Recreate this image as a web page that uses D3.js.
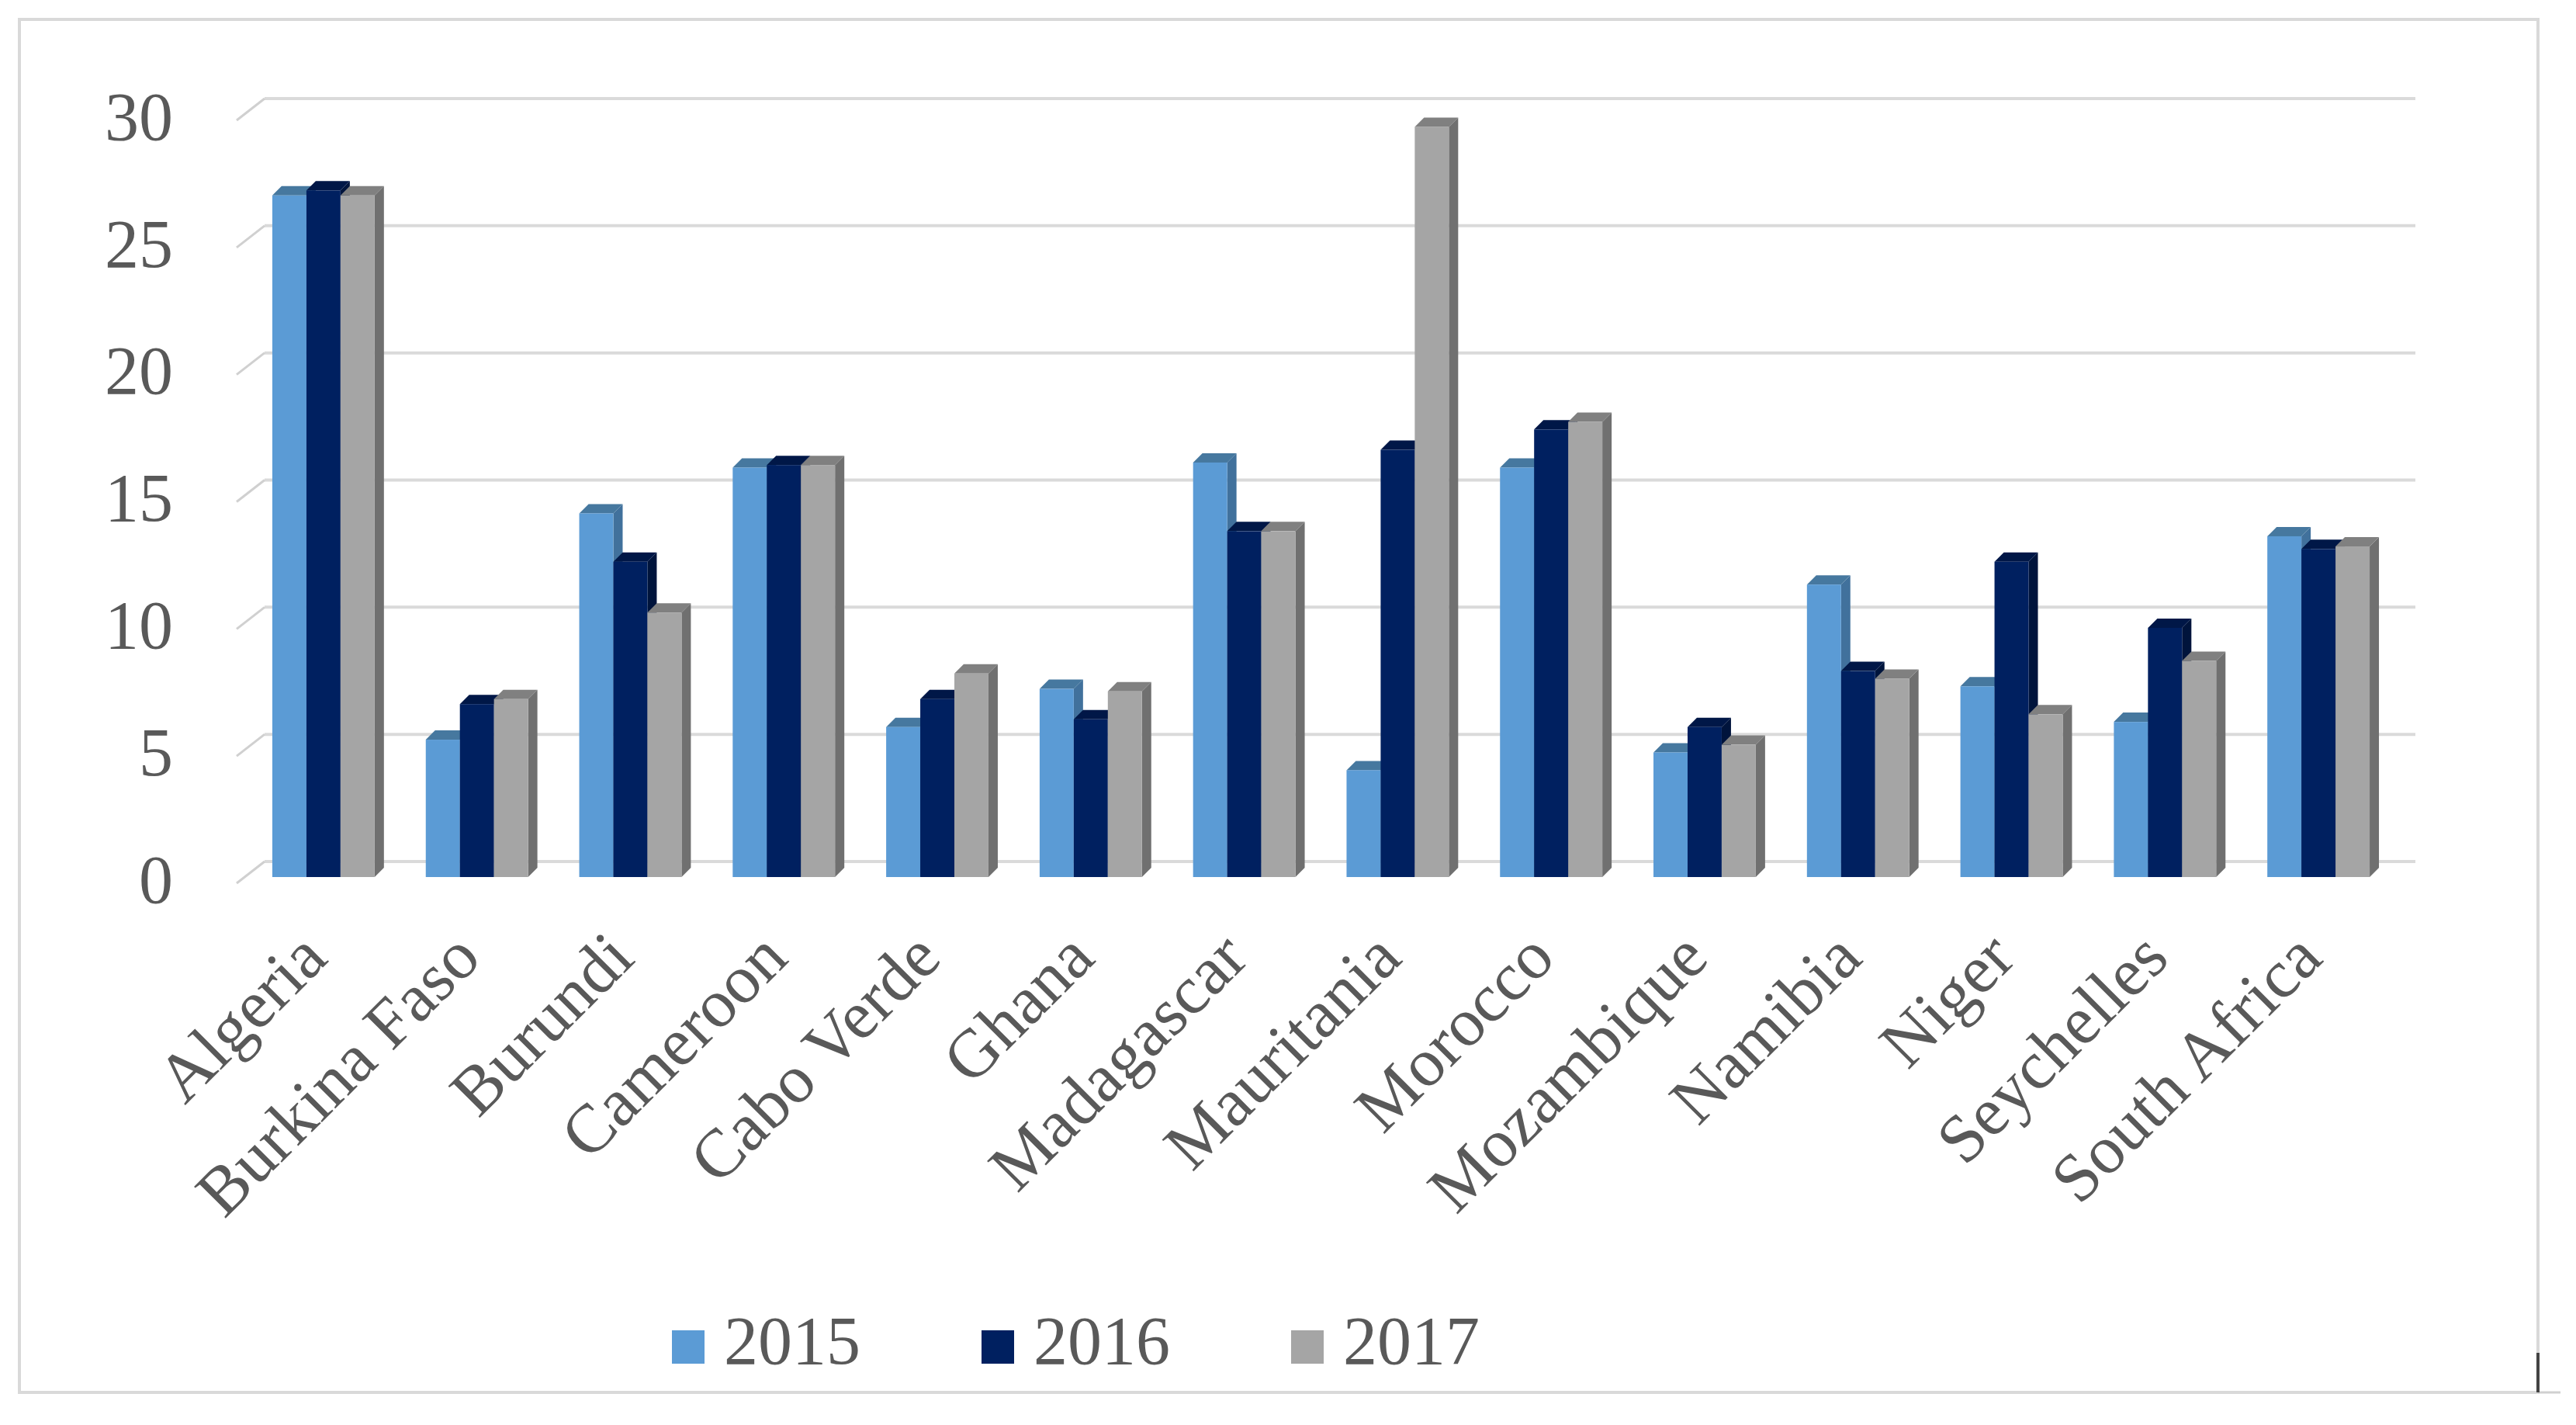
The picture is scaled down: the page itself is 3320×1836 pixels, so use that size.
<!DOCTYPE html>
<html>
<head>
<meta charset="utf-8">
<script src="https://cdn.jsdelivr.net/npm/d3@7/dist/d3.min.js"></script>
<style>
  html, body { margin: 0; padding: 0; background: #ffffff; }
  svg { display: block; }
  text { font-family: "Liberation Serif", "Times New Roman", serif; fill: #595959; }
</style>
</head>
<body>
<script>
// ---------- data ----------
const categories = ["Algeria", "Burkina Faso", "Burundi", "Cameroon", "Cabo Verde", "Ghana",
  "Madagascar", "Mauritania", "Morocco", "Mozambique", "Namibia", "Niger", "Seychelles", "South Africa"];
const seriesNames = ["2015", "2016", "2017"];
const values2015 = [26.8, 5.4, 14.3, 16.1, 5.9, 7.4, 16.3, 4.2, 16.1, 4.9, 11.5, 7.5, 6.1, 13.4];
const values2016 = [27.0, 6.8, 12.4, 16.2, 7.0, 6.2, 13.6, 16.8, 17.6, 5.9, 8.1, 12.4, 9.8, 12.9];
const values2017 = [26.8, 7.0, 10.4, 16.2, 8.0, 7.3, 13.6, 29.5, 17.9, 5.2, 7.8, 6.4, 8.5, 13.0];
const yTicks = [0, 5, 10, 15, 20, 25, 30];

// ---------- styles ----------
const colors = {
  "2015": { front: "#5b9bd5", top: "#46789f", side: "#41719c" },
  "2016": { front: "#002060", top: "#001747", side: "#00143c" },
  "2017": { front: "#a5a5a5", top: "#808080", side: "#707070" }
};

const W = 3320, H = 1836;
const svg = d3.select("body").append("svg").attr("width", W).attr("height", H);

// chart frame
svg.append("rect").attr("x", 25).attr("y", 25).attr("width", 3246).attr("height", 1769)
  .attr("fill", "#ffffff").attr("stroke", "#d9d9d9").attr("stroke-width", 4);
svg.append("line").attr("x1", 3271).attr("x2", 3300).attr("y1", 1794).attr("y2", 1794)
  .attr("stroke", "#d0d0d0").attr("stroke-width", 3);
svg.append("line").attr("x1", 3271).attr("x2", 3271).attr("y1", 1743).attr("y2", 1794)
  .attr("stroke", "#444444").attr("stroke-width", 4);

// ---------- scales ----------
const depthX = 36, depthY = 28;          // wall offset from front plane
const frontLeft = 305, frontRight = 3077;
const yFront = d3.scaleLinear().domain([0, 30]).range([1138, 155]);
const yWall = d3.scaleLinear().domain([0, 30]).range([1110, 127]);
const yBar = d3.scaleLinear().domain([0, 30]).range([1130, 147]);

const x = d3.scaleBand().domain(categories).range([318, 3087]).paddingInner(1 / 3).paddingOuter(1 / 6);
const xs = d3.scaleBand().domain(seriesNames).range([0, x.bandwidth()]);

// ---------- gridlines (back wall) + diagonal ticks ----------
const grid = svg.append("g");
grid.selectAll("line.g").data(yTicks).join("line")
  .attr("x1", frontLeft + depthX).attr("x2", frontRight + depthX)
  .attr("y1", d => yWall(d)).attr("y2", d => yWall(d))
  .attr("stroke", "#dadada").attr("stroke-width", 4);
grid.selectAll("line.d").data(yTicks).join("line")
  .attr("x1", frontLeft).attr("y1", d => yFront(d))
  .attr("x2", frontLeft + depthX).attr("y2", d => yWall(d))
  .attr("stroke", "#d0d0d0").attr("stroke-width", 3);

// ---------- y axis labels ----------
const yAxis = svg.append("g").attr("transform", "translate(223,0)")
  .call(d3.axisLeft(yFront).tickValues(yTicks).tickSize(0).tickPadding(0).tickFormat(d3.format("d")));
yAxis.select(".domain").remove();
yAxis.selectAll("text").attr("font-size", 88).attr("fill", "#595959")
  .attr("font-family", "Liberation Serif, Times New Roman, serif")
  .attr("dy", "0.32em").attr("y", -4);

// ---------- 3D bars ----------
const valuesBySeries = { "2015": values2015, "2016": values2016, "2017": values2017 };
const d = 12;
const bars = svg.append("g");
categories.forEach((cat, i) => {
  seriesNames.forEach(s => {
    const v = valuesBySeries[s][i];
    const x0 = x(cat) + xs(s), w = xs.bandwidth();
    const yt = yBar(v), yb = yBar(0);
    const c = colors[s];
    const g = bars.append("g");
    // side face
    g.append("path")
      .attr("d", `M${x0 + w},${yt} L${x0 + w + d},${yt - d} L${x0 + w + d},${yb - d} L${x0 + w},${yb} Z`)
      .attr("fill", c.side);
    // top face
    g.append("path")
      .attr("d", `M${x0},${yt} L${x0 + d},${yt - d} L${x0 + w + d},${yt - d} L${x0 + w},${yt} Z`)
      .attr("fill", c.top);
    // front face
    g.append("rect").attr("x", x0).attr("y", yt).attr("width", w).attr("height", yb - yt)
      .attr("fill", c.front);
  });
});

// ---------- x axis labels ----------
const xAxis = svg.append("g").attr("transform", "translate(0,1238)")
  .call(d3.axisBottom(x).tickSize(0).tickPadding(0));
xAxis.select(".domain").remove();
xAxis.selectAll("text")
  .attr("font-size", 88).attr("fill", "#595959")
  .attr("font-family", "Liberation Serif, Times New Roman, serif")
  .attr("x", 0).attr("y", 0).attr("dy", 0)
  .attr("text-anchor", "end")
  .attr("transform", "translate(8,0) rotate(-45)");

// ---------- legend ----------
const legendX = d3.scalePoint().domain(seriesNames).range([866, 1664]);
const legend = svg.append("g");
const li = legend.selectAll("g").data(seriesNames).join("g")
  .attr("transform", s => `translate(${legendX(s)},0)`);
li.append("rect").attr("x", 0).attr("y", 1714).attr("width", 42).attr("height", 43)
  .attr("fill", s => colors[s].front);
li.append("text").attr("x", 67).attr("y", 1757).attr("font-size", 88).text(s => s);
</script>
</body>
</html>
